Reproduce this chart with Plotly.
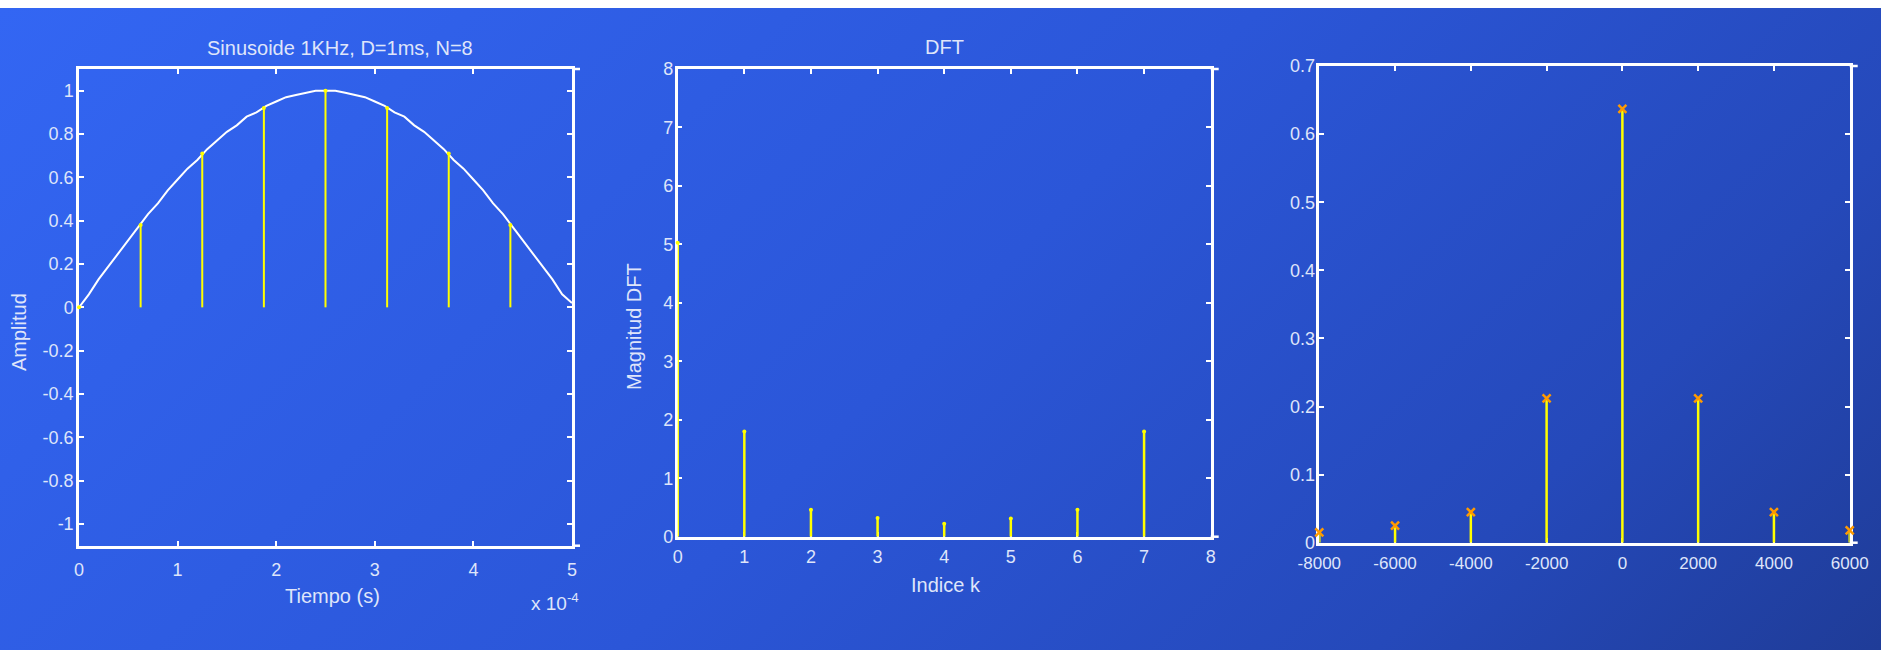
import base64
import plotly.graph_objects as go

W, H = 1884, 650

# ---------------- data ----------------
# Panel 1: continuous sinusoid (time in s) and its 8 samples
t_curve = [0.0, 0.1e-4, 0.2e-4, 0.3e-4, 0.4e-4, 0.5e-4, 0.6e-4, 0.7e-4, 0.8e-4, 0.9e-4,
           1.0e-4, 1.1e-4, 1.2e-4, 1.3e-4, 1.4e-4, 1.5e-4, 1.6e-4, 1.7e-4, 1.8e-4, 1.9e-4,
           2.0e-4, 2.1e-4, 2.2e-4, 2.3e-4, 2.4e-4, 2.5e-4, 2.6e-4, 2.7e-4, 2.8e-4, 2.9e-4,
           3.0e-4, 3.1e-4, 3.2e-4, 3.3e-4, 3.4e-4, 3.5e-4, 3.6e-4, 3.7e-4, 3.8e-4, 3.9e-4,
           4.0e-4, 4.1e-4, 4.2e-4, 4.3e-4, 4.4e-4, 4.5e-4, 4.6e-4, 4.7e-4, 4.8e-4, 4.9e-4,
           5.0e-4]
amp_curve = [0.00, 0.06, 0.13, 0.19, 0.25, 0.31, 0.37, 0.43, 0.48, 0.54,
             0.59, 0.64, 0.68, 0.73, 0.77, 0.81, 0.84, 0.88, 0.90, 0.93,
             0.95, 0.97, 0.98, 0.99, 1.00, 1.00, 1.00, 0.99, 0.98, 0.97,
             0.95, 0.93, 0.90, 0.88, 0.84, 0.81, 0.77, 0.73, 0.68, 0.64,
             0.59, 0.54, 0.48, 0.43, 0.37, 0.31, 0.25, 0.19, 0.13, 0.06,
             0.02]
t_samples = [0.0, 0.625e-4, 1.25e-4, 1.875e-4, 2.5e-4, 3.125e-4, 3.75e-4, 4.375e-4]
amp_samples = [0.00, 0.38, 0.71, 0.92, 1.00, 0.92, 0.71, 0.38]

# Panel 2: DFT magnitude
k_index = [0, 1, 2, 3, 4, 5, 6, 7]
dft_mag = [5.03, 1.80, 0.46, 0.32, 0.22, 0.31, 0.46, 1.80]

# Panel 3: spectrum vs frequency
freq = [-8000, -6000, -4000, -2000, 0, 2000, 4000, 6000]
spec = [0.015, 0.025, 0.045, 0.212, 0.637, 0.212, 0.045, 0.018]

# tick labels
p1_xticks = [0.0, 1e-4, 2e-4, 3e-4, 4e-4, 5e-4]
p1_xtext = ["0", "1", "2", "3", "4", "5"]
p1_yticks = [-1, -0.8, -0.6, -0.4, -0.2, 0, 0.2, 0.4, 0.6, 0.8, 1]
p1_ytext = ["-1", "-0.8", "-0.6", "-0.4", "-0.2", "0", "0.2", "0.4", "0.6", "0.8", "1"]
p2_xticks = [0, 1, 2, 3, 4, 5, 6, 7, 8]
p2_yticks = [0, 1, 2, 3, 4, 5, 6, 7, 8]
p3_xticks = [-8000, -6000, -4000, -2000, 0, 2000, 4000, 6000]
p3_xtext = ["-8000", "-6000", "-4000", "-2000", "0", "2000", "4000", "6000"]
p3_yticks = [0, 0.1, 0.2, 0.3, 0.4, 0.5, 0.6, 0.7]
p3_ytext = ["0", "0.1", "0.2", "0.3", "0.4", "0.5", "0.6", "0.7"]

# ---------------- layout geometry (pixels) ----------------
boxes = {
    1: (79, 572, 69, 545.7),
    2: (677.7, 1210.7, 69, 536.7),
    3: (1319.3, 1849.7, 66, 542.7),
}


def px(x):
    return x / W


def py(y):
    return 1 - y / H


TXT = "#dfe5fa"
FONT = "Liberation Sans, Arial, sans-serif"
YELLOW = "#ffff00"


def stems(xs, ys):
    sx, sy = [], []
    for x, y in zip(xs, ys):
        sx += [x, x, None]
        sy += [0, y, None]
    return sx, sy


fig = go.Figure()

# Panel 1
fig.add_trace(go.Scatter(x=t_curve, y=amp_curve, mode="lines",
                         line=dict(color="white", width=2), xaxis="x", yaxis="y",
                         hoverinfo="skip"))
sx, sy = stems(t_samples, amp_samples)
fig.add_trace(go.Scatter(x=sx, y=sy, mode="lines", line=dict(color=YELLOW, width=2),
                         xaxis="x", yaxis="y", hoverinfo="skip"))
fig.add_trace(go.Scatter(x=t_samples, y=amp_samples, mode="markers",
                         marker=dict(color=YELLOW, size=4), cliponaxis=False,
                         xaxis="x", yaxis="y"))

# Panel 2
sx, sy = stems(k_index, dft_mag)
fig.add_trace(go.Scatter(x=sx, y=sy, mode="lines", line=dict(color=YELLOW, width=2.5),
                         xaxis="x2", yaxis="y2", hoverinfo="skip"))
fig.add_trace(go.Scatter(x=k_index, y=dft_mag, mode="markers",
                         marker=dict(color=YELLOW, size=4), cliponaxis=False,
                         xaxis="x2", yaxis="y2"))

# Panel 3
sx, sy = stems(freq, spec)
fig.add_trace(go.Scatter(x=sx, y=sy, mode="lines", line=dict(color=YELLOW, width=2.5),
                         xaxis="x3", yaxis="y3", hoverinfo="skip"))
fig.add_trace(go.Scatter(x=freq, y=spec, mode="markers", cliponaxis=False,
                         marker=dict(symbol="x-thin", size=8,
                                     line=dict(color="#ff9a00", width=2.5)),
                         xaxis="x3", yaxis="y3"))


def axis(rng, domain, tickvals, ticktext=None, standoff=0, size=17):
    d = dict(range=rng, domain=domain, showline=True, linecolor="white", linewidth=2.5,
             mirror="ticks", ticks="inside", ticklen=5, tickwidth=2, tickcolor="white",
             tickvals=tickvals, showgrid=False, zeroline=False, layer="below traces",
             automargin=False, fixedrange=True, ticklabelstandoff=standoff,
             tickfont=dict(family=FONT, size=size, color=TXT))
    if ticktext is not None:
        d["ticktext"] = ticktext
    return d


b1, b2, b3 = boxes[1], boxes[2], boxes[3]
layout = dict(
    width=W, height=H, margin=dict(l=0, r=0, t=0, b=0),
    paper_bgcolor="white", plot_bgcolor="rgba(0,0,0,0)", showlegend=False,
    xaxis=axis([0, 5e-4], [px(b1[0]), px(b1[1])], p1_xticks, p1_xtext, 6, 18) | dict(anchor="y"),
    yaxis=axis([-1.1, 1.1], [py(b1[3]), py(b1[2])], p1_yticks, p1_ytext, -1, 18) | dict(anchor="x"),
    xaxis2=axis([0, 8], [px(b2[0]), px(b2[1])], p2_xticks, None, 2, 18) | dict(anchor="y2"),
    yaxis2=axis([0, 8], [py(b2[3]), py(b2[2])], p2_yticks, None, -2, 18) | dict(anchor="x2"),
    xaxis3=axis([-8000, 6000], [px(b3[0]), px(b3[1])], p3_xticks, p3_xtext, 3, 17) | dict(anchor="y3"),
    yaxis3=axis([0, 0.7], [py(b3[3]), py(b3[2])], p3_yticks, p3_ytext, -2, 18) | dict(anchor="x3"),
)
fig.update_layout(**layout)

# gradient background
svg = ('<svg xmlns="http://www.w3.org/2000/svg" width="1881" height="642" '
       'viewBox="0 0 1881 642" preserveAspectRatio="none"><defs>'
       '<linearGradient id="g" x1="0" y1="0" x2="1261" y2="1261" gradientUnits="userSpaceOnUse">'
       '<stop offset="0" stop-color="#3366f3"/><stop offset="0.5" stop-color="#2b56d8"/>'
       '<stop offset="0.8" stop-color="#2549ba"/><stop offset="1" stop-color="#1f3c98"/>'
       '</linearGradient></defs><rect width="1881" height="642" fill="url(#g)"/></svg>')
src = "data:image/svg+xml;base64," + base64.b64encode(svg.encode()).decode()
fig.add_layout_image(dict(source=src, xref="paper", yref="paper", x=0, y=py(8),
                          sizex=1881 / W, sizey=642 / H, xanchor="left", yanchor="top",
                          sizing="stretch", layer="below"))

# extensions of top/bottom box lines past the right edge (MATLAB look)
for (x0, x1, yt, yb) in boxes.values():
    for yy in (yt, yb):
        fig.add_shape(type="line", xref="paper", yref="paper",
                      x0=px(x1), x1=px(x1 + 8), y0=py(yy), y1=py(yy),
                      line=dict(color="white", width=2.5))


# texts
def note(text, x, y, size=20, angle=0, xanchor="center"):
    fig.add_annotation(text=text, x=px(x), y=py(y), xref="paper", yref="paper",
                       showarrow=False, textangle=angle, xanchor=xanchor, yanchor="middle",
                       font=dict(family=FONT, size=size, color=TXT))


note("Sinusoide 1KHz, D=1ms, N=8", 340, 48, 20)
note("DFT", 944, 47, 20)
note("Tiempo (s)", 332, 596, 20)
note("Indice k", 946, 585, 20)
note("Amplitud", 19, 332, 20, -90)
note("Magnitud DFT", 634, 327, 20, -90)
note("x 10<sup>-4</sup>", 529, 602, 19, xanchor="left")

fig.write_html("out.html", config={"displayModeBar": False},
               post_script="document.body.style.margin='0';")
